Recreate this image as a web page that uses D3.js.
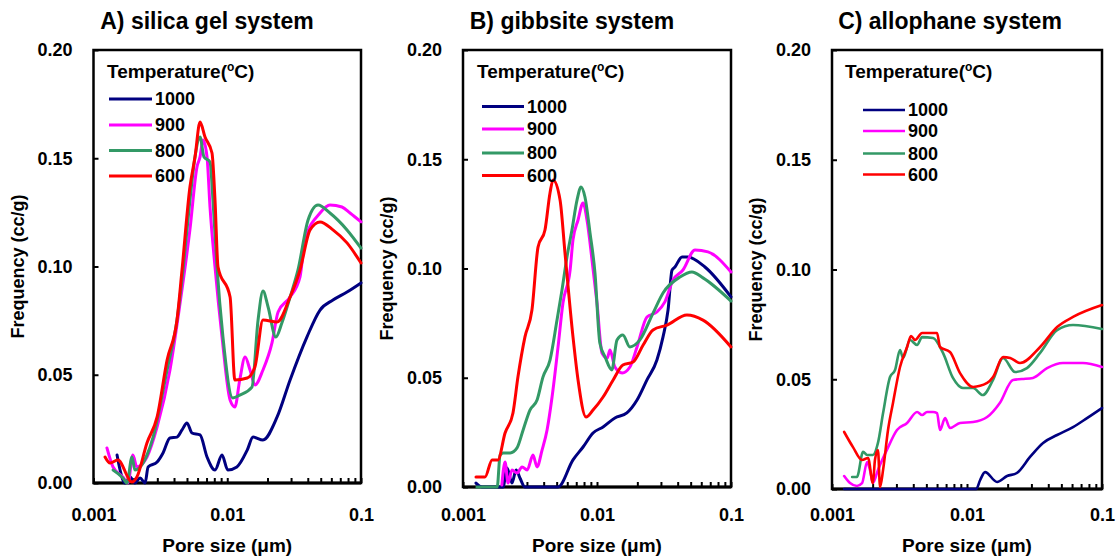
<!DOCTYPE html>
<html>
<head>
<meta charset="utf-8">
<script src="https://cdn.jsdelivr.net/npm/d3@7"></script>
<style>
  body { margin: 0; background: #fff; }
  text { font-family: "Liberation Sans", Arial, sans-serif; font-weight: bold; fill: #000; }
</style>
</head>
<body>
<div id="chart"></div>
<script>
// chart data, pore size (um) vs frequency (cc/g)
var temps = ["1000", "900", "800", "600"];
var colors = ["#000080", "#ff00ff", "#339966", "#ff0000"];
var panelTitles = ["A) silica gel system", "B) gibbsite system", "C) allophane system"];
var yTicks = [0, 0.05, 0.10, 0.15, 0.20];
var xMajor = [0.001, 0.01, 0.1];
var xTickLabels = ["0.001", "0.01", "0.1"];

var silica1000 = [[0.00150,0.0129],[0.00158,0.0060],[0.00172,0],[0.00188,0.0028],[0.00204,0],[0.00223,0.0023],[0.00243,0],[0.00256,0.0074],[0.00299,0.0097],[0.00331,0.0139],[0.00373,0.0208],[0.00421,0.0212],[0.00459,0.0245],[0.00500,0.0277],[0.00545,0.0231],[0.00626,0.0222],[0.00706,0.0120],[0.00810,0.0060],[0.00914,0.0129],[0.0101,0.0060],[0.0118,0.0074],[0.0141,0.0152],[0.0156,0.0212],[0.0185,0.0199],[0.0236,0.0305],[0.0295,0.0476],[0.0394,0.0674],[0.0494,0.0799],[0.0617,0.0845],[0.0786,0.0882],[0.1,0.0924]];
var silica900 = [[0.00126,0.0162],[0.00140,0.0074],[0.00166,0.0028],[0.00181,0],[0.00197,0.0129],[0.00211,0.0074],[0.00251,0.0120],[0.00299,0.0259],[0.00373,0.0522],[0.00444,0.0831],[0.00526,0.1170],[0.00594,0.1460],[0.00626,0.1506],[0.00659,0.1584],[0.00706,0.1506],[0.00743,0.1275],[0.00810,0.0998],[0.00914,0.0674],[0.0105,0.0383],[0.0114,0.0351],[0.0124,0.0476],[0.0136,0.0582],[0.0148,0.0522],[0.0161,0.0453],[0.0185,0.0522],[0.0216,0.0647],[0.0240,0.0790],[0.0295,0.0859],[0.0350,0.0952],[0.0381,0.1122],[0.0494,0.1247],[0.0586,0.1284],[0.0721,0.1275],[0.0828,0.1247],[0.1,0.1206]];
var silica800 = [[0.00140,0.0060],[0.00166,0.0023],[0.00178,0],[0.00194,0.0120],[0.00204,0.0060],[0.00251,0.0129],[0.00279,0.0212],[0.00355,0.0522],[0.00421,0.0753],[0.00467,0.0984],[0.00526,0.1307],[0.00574,0.1506],[0.00626,0.1598],[0.00670,0.1506],[0.00743,0.1483],[0.00782,0.1307],[0.00838,0.0998],[0.00929,0.0674],[0.0110,0.0393],[0.0124,0.0406],[0.0153,0.0443],[0.0170,0.0753],[0.0185,0.0887],[0.0202,0.0813],[0.0231,0.0674],[0.0256,0.0739],[0.0295,0.0859],[0.0338,0.0984],[0.0402,0.1215],[0.0477,0.1284],[0.0586,0.1247],[0.0786,0.1169],[0.1,0.1085]];
var silica600 = [[0.00122,0.0120],[0.00133,0.0092],[0.00152,0.0106],[0.00194,0.0005],[0.00211,0.0028],[0.00251,0.0185],[0.00299,0.0305],[0.00355,0.0568],[0.00421,0.0753],[0.00459,0.0984],[0.00526,0.1367],[0.00574,0.1506],[0.00626,0.1667],[0.00682,0.1598],[0.00769,0.1524],[0.00810,0.1307],[0.00853,0.0998],[0.0105,0.0859],[0.0114,0.0476],[0.0141,0.0485],[0.0161,0.0536],[0.0185,0.0753],[0.0236,0.0744],[0.0295,0.0859],[0.0350,0.0984],[0.0416,0.1169],[0.0494,0.1206],[0.0617,0.1169],[0.0786,0.1109],[0.1,0.1016]];

var gibbsite1000 = [[0.00125,0.0018],[0.00139,0],[0.00199,0],[0.00213,0.0087],[0.00232,0.0018],[0.00249,0.0078],[0.00266,0.0041],[0.00290,0],[0.00512,0],[0.00662,0.0124],[0.00787,0.0183],[0.00934,0.0247],[0.0111,0.0275],[0.0136,0.0316],[0.0167,0.0339],[0.0199,0.0398],[0.0236,0.0490],[0.0280,0.0581],[0.0311,0.0687],[0.0339,0.0810],[0.0363,0.0993],[0.0382,0.1007],[0.0431,0.1053],[0.0477,0.1053],[0.0639,0.1007],[0.1,0.0870]];
var gibbsite900 = [[0.00195,0.0009],[0.00206,0.0114],[0.00217,0.0018],[0.00232,0.0078],[0.00253,0.0064],[0.00276,0.0092],[0.00301,0.0078],[0.00333,0.0146],[0.00357,0.0092],[0.00389,0.0169],[0.00424,0.0261],[0.00462,0.0412],[0.00512,0.0641],[0.00557,0.0842],[0.00630,0.0993],[0.00662,0.1131],[0.00722,0.1222],[0.00787,0.1300],[0.00842,0.1222],[0.00918,0.1039],[0.0100,0.0842],[0.0109,0.0613],[0.0119,0.0590],[0.0125,0.0627],[0.0136,0.0549],[0.0154,0.0522],[0.0176,0.0549],[0.0199,0.0641],[0.0236,0.0778],[0.0280,0.0801],[0.0321,0.0847],[0.0369,0.0947],[0.0438,0.0993],[0.0539,0.1085],[0.0673,0.1076],[0.1,0.0984]];
var gibbsite800 = [[0.00127,0],[0.00180,0],[0.00189,0.0146],[0.00199,0.0156],[0.00225,0.0156],[0.00253,0.0179],[0.00281,0.0261],[0.00316,0.0352],[0.00357,0.0398],[0.00395,0.0503],[0.00446,0.0581],[0.00503,0.0764],[0.00548,0.0902],[0.00597,0.1053],[0.00650,0.1176],[0.00710,0.1314],[0.00760,0.1373],[0.00813,0.1327],[0.00887,0.1163],[0.00966,0.0979],[0.0105,0.0659],[0.0115,0.0595],[0.0129,0.0536],[0.0141,0.0673],[0.0156,0.0696],[0.0176,0.0641],[0.0209,0.0673],[0.0262,0.0796],[0.0311,0.0888],[0.0416,0.0961],[0.0511,0.0984],[0.0618,0.0957],[0.1,0.0851]];
var gibbsite600 = [[0.00125,0.0046],[0.00146,0.0046],[0.00165,0.0124],[0.00182,0.0124],[0.00206,0.0247],[0.00236,0.0339],[0.00257,0.0503],[0.00290,0.0687],[0.00327,0.0810],[0.00363,0.1098],[0.00409,0.1176],[0.00446,0.1346],[0.00470,0.1405],[0.00530,0.1314],[0.00577,0.1071],[0.00662,0.0687],[0.00722,0.0490],[0.00828,0.0320],[0.00934,0.0352],[0.0111,0.0412],[0.0132,0.0490],[0.0156,0.0558],[0.0186,0.0572],[0.0221,0.0650],[0.0262,0.0719],[0.0333,0.0741],[0.0469,0.0787],[0.0618,0.0764],[0.1,0.0641]];

var allophane1000 = [[0.00123,0],[0.0117,0],[0.0125,0.0040],[0.0136,0.0077],[0.0167,0.0032],[0.0198,0.0059],[0.0234,0.0073],[0.0293,0.0146],[0.0366,0.0210],[0.0465,0.0246],[0.0610,0.0282],[0.0774,0.0323],[0.1,0.0369]];
var allophane900 = [[0.00123,0.0059],[0.00136,0.0027],[0.00153,0.0014],[0.00167,0.0027],[0.00182,0.0123],[0.00191,0.0087],[0.00201,0.0027],[0.00219,0.0087],[0.00255,0.0178],[0.00303,0.0269],[0.00360,0.0301],[0.00427,0.0351],[0.00465,0.0337],[0.00506,0.0351],[0.00560,0.0351],[0.00600,0.0346],[0.00631,0.0269],[0.00688,0.0323],[0.00748,0.0278],[0.00888,0.0301],[0.0111,0.0305],[0.0141,0.0328],[0.0175,0.0392],[0.0219,0.0497],[0.0255,0.0501],[0.0308,0.0506],[0.0392,0.0551],[0.0514,0.0574],[0.0723,0.0574],[0.1,0.0556]];
var allophane800 = [[0.00141,0.0055],[0.00153,0.0055],[0.00170,0.0169],[0.00182,0.0155],[0.00201,0.0155],[0.00219,0.0210],[0.00239,0.0346],[0.00269,0.0510],[0.00293,0.0542],[0.00319,0.0633],[0.00336,0.0597],[0.00378,0.0679],[0.00427,0.0656],[0.00465,0.0692],[0.00560,0.0688],[0.00664,0.0620],[0.00787,0.0506],[0.00934,0.0460],[0.0111,0.0460],[0.0131,0.0428],[0.0156,0.0497],[0.0185,0.0597],[0.0227,0.0533],[0.0278,0.0551],[0.0348,0.0620],[0.0465,0.0724],[0.0610,0.0747],[0.1,0.0729]];
var allophane600 = [[0.00123,0.0260],[0.00143,0.0191],[0.00167,0.0132],[0.00185,0.0141],[0.00201,0.0027],[0.00208,0.0132],[0.00219,0.0178],[0.00227,0.0009],[0.00239,0.0087],[0.00260,0.0269],[0.00283,0.0392],[0.00319,0.0556],[0.00360,0.0647],[0.00385,0.0697],[0.00412,0.0679],[0.00465,0.0711],[0.00600,0.0711],[0.00631,0.0647],[0.00748,0.0624],[0.00888,0.0528],[0.0111,0.0465],[0.0141,0.0483],[0.0156,0.0510],[0.0185,0.0601],[0.0209,0.0597],[0.0247,0.0574],[0.0348,0.0647],[0.0465,0.0738],[0.0610,0.0784],[0.1,0.0838]];

// panel layout
var width = 1119, height = 558;
var panels = [
  {title: panelTitles[0], titleX: 207, left: 93.5, right: 361, top: 50, bottom: 483,
   legX: 107, legLine: [109, 152], legY: [99, 125, 150.5, 176], lw: 3,
   series: [silica1000, silica900, silica800, silica600]},
  {title: panelTitles[1], titleX: 572, left: 463, right: 731, top: 50, bottom: 487,
   legX: 477, legLine: [482, 524], legY: [106.5, 129, 153, 175.5], lw: 3,
   series: [gibbsite1000, gibbsite900, gibbsite800, gibbsite600]},
  {title: panelTitles[2], titleX: 950, left: 832, right: 1102, top: 50, bottom: 489,
   legX: 845, legLine: [863, 905], legY: [110, 131, 153.5, 174.5], lw: 2.6,
   series: [allophane1000, allophane900, allophane800, allophane600]}
];

var svg = d3.select("#chart")
            .append("svg")
            .attr("width", width)
            .attr("height", height);

// minor + major tick positions for the log axis
var xTicksAll = [];
[0.001, 0.01].forEach(function(dec) {
  for (var k = 1; k <= 9; k++) xTicksAll.push(+(dec * k).toPrecision(3));
});
xTicksAll.push(0.1);

panels.forEach(function(p) {
  var x = d3.scaleLog().domain([0.001, 0.1]).range([p.left, p.right]);
  var y = d3.scaleLinear().domain([0, 0.2]).range([p.bottom, p.top]);
  var g = svg.append("g");

  // title
  g.append("text")
   .attr("x", p.titleX).attr("y", 29)
   .attr("text-anchor", "middle")
   .style("font-size", "23px")
   .text(p.title);

  // y axis
  var yAxis = g.append("g")
   .attr("transform", "translate(" + p.left + ",0)")
   .call(d3.axisLeft(y).tickValues(yTicks).tickSize(-5).tickPadding(21)
           .tickFormat(d3.format(".2f")));
  yAxis.select(".domain").remove();

  // x axis
  var xAxis = g.append("g")
   .attr("transform", "translate(0," + p.bottom + ")")
   .call(d3.axisBottom(x).tickValues(xTicksAll).tickSize(-5).tickPadding(508 - p.bottom)
           .tickFormat(function(d) {
             var i = xMajor.indexOf(d);
             return i >= 0 ? xTickLabels[i] : "";
           }));
  xAxis.select(".domain").remove();

  [yAxis, xAxis].forEach(function(a) {
    a.selectAll("line").attr("stroke", "#000").attr("stroke-width", 2);
    a.selectAll("text")
     .style("font-family", "'Liberation Sans', Arial, sans-serif")
     .style("font-weight", "bold")
     .style("font-size", "18px")
     .attr("fill", "#000");
  });

  // frame
  g.append("rect")
   .attr("x", p.left).attr("y", p.top)
   .attr("width", p.right - p.left).attr("height", p.bottom - p.top)
   .attr("fill", "none").attr("stroke", "#000").attr("stroke-width", 2.5);
  g.append("line")
   .attr("x1", p.left).attr("x2", p.right)
   .attr("y1", p.bottom).attr("y2", p.bottom)
   .attr("stroke", "#000").attr("stroke-width", 3);

  // axis titles
  g.append("text")
   .attr("x", (p.left + p.right) / 2).attr("y", 552)
   .attr("text-anchor", "middle")
   .style("font-size", "19px")
   .text("Pore size (\u03bcm)");
  g.append("text")
   .attr("transform", "translate(" + (p.left - 70) + "," + ((p.top + p.bottom) / 2) + ") rotate(-90)")
   .attr("text-anchor", "middle")
   .style("font-size", "18px")
   .text("Frequency (cc/g)");

  // curves
  var line = d3.line()
               .curve(d3.curveMonotoneX)
               .x(function(d) { return x(d[0]); })
               .y(function(d) { return y(d[1]); });
  p.series.forEach(function(s, i) {
    g.append("path")
     .datum(s)
     .attr("d", line)
     .attr("fill", "none")
     .attr("stroke", colors[i])
     .attr("stroke-width", p.lw)
     .attr("stroke-linejoin", "round")
     .attr("stroke-linecap", "round");
  });

  // legend
  var leg = g.append("text")
   .attr("x", p.legX).attr("y", 78)
   .style("font-size", "19px");
  leg.append("tspan").text("Temperature(");
  leg.append("tspan").attr("dy", -7).style("font-size", "12px").text("o");
  leg.append("tspan").attr("dy", 7).text("C)");

  temps.forEach(function(t, i) {
    g.append("line")
     .attr("x1", p.legLine[0]).attr("x2", p.legLine[1])
     .attr("y1", p.legY[i]).attr("y2", p.legY[i])
     .attr("stroke", colors[i])
     .attr("stroke-width", p.lw);
    g.append("text")
     .attr("x", p.legLine[1] + 3).attr("y", p.legY[i])
     .attr("dy", "0.35em")
     .style("font-size", "18px")
     .text(t);
  });
});
</script>
</body>
</html>
